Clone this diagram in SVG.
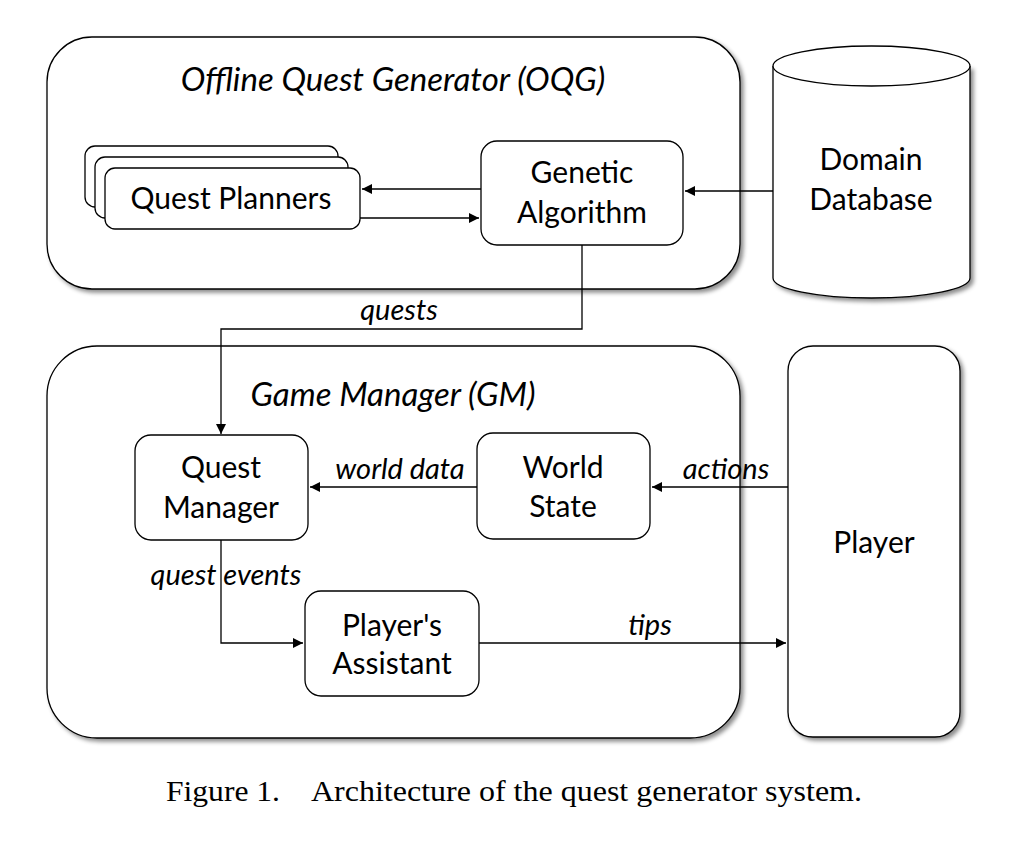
<svg xmlns="http://www.w3.org/2000/svg" width="1022" height="849" viewBox="0 0 1022 849">
<style>
.box{fill:#fff;stroke:#000;stroke-width:1.3}
.t{font-family:Lato,"Open Sans","Liberation Sans",sans-serif;font-size:30px;fill:#000;text-anchor:middle}
.i{font-family:Lato,"Open Sans","Liberation Sans",sans-serif;font-style:italic;font-size:29px;fill:#000;text-anchor:middle}
.h{font-family:Lato,"Open Sans","Liberation Sans",sans-serif;font-style:italic;font-size:33px;fill:#000;text-anchor:middle}
.c{fill:none;stroke:#000;stroke-width:1.3}
.cap{font-family:"Liberation Serif","Times New Roman",serif;font-size:30px;fill:#000}
</style>
<defs>
<filter id="sh" x="-5%" y="-5%" width="112%" height="115%">
<feDropShadow dx="3" dy="3" stdDeviation="2" flood-color="#000" flood-opacity="0.45"/>
</filter>
<marker id="ar" viewBox="0 0 10 10" refX="10" refY="5" markerWidth="10" markerHeight="10" markerUnits="userSpaceOnUse" orient="auto">
<path d="M0,0 L10,5 L0,10 z" fill="#000"/>
</marker>
</defs>
<rect width="1022" height="849" fill="#fff"/>

<g id="oqg">
<rect class="box" x="47" y="37" width="693" height="252" rx="45" filter="url(#sh)"/>
<text class="h" x="393" y="91">Offline Quest Generator (OQG)</text>
</g>

<g id="gm">
<rect class="box" x="47" y="346" width="693" height="392" rx="50" filter="url(#sh)"/>
<text class="h" x="393" y="406">Game Manager (GM)</text>
</g>

<g id="quest-planners">
<rect class="box" x="85" y="146" width="253" height="61" rx="10"/>
<rect class="box" x="95" y="157" width="253" height="61" rx="10"/>
<rect class="box" x="105" y="168" width="255" height="61" rx="10"/>
<text class="t" x="231" y="209">Quest Planners</text>
</g>

<g id="genetic-algorithm">
<rect class="box" x="481" y="141" width="202" height="104" rx="16"/>
<text class="t" x="582" y="183">Genetic</text>
<text class="t" x="582" y="223">Algorithm</text>
</g>

<g id="domain-database">
<path class="box" d="M773,66 L773,278 A98.5,20 0 0 0 970,278 L970,66" filter="url(#sh)"/>
<ellipse class="box" cx="871.5" cy="66" rx="98.5" ry="20"/>
<text class="t" x="871" y="170">Domain</text>
<text class="t" x="871" y="210">Database</text>
</g>

<g id="quest-manager">
<rect class="box" x="135" y="435" width="173" height="105" rx="16"/>
<text class="t" x="221" y="478">Quest</text>
<text class="t" x="221" y="518">Manager</text>
</g>

<g id="world-state">
<rect class="box" x="477" y="433" width="173" height="106" rx="16"/>
<text class="t" x="563" y="478">World</text>
<text class="t" x="563" y="517">State</text>
</g>

<g id="players-assistant">
<rect class="box" x="305" y="591" width="174" height="105" rx="16"/>
<text class="t" x="392" y="636">Player's</text>
<text class="t" x="392" y="674">Assistant</text>
</g>

<g id="player">
<rect class="box" x="788" y="346" width="172" height="391" rx="25" filter="url(#sh)"/>
<text class="t" x="874" y="553">Player</text>
</g>

<g id="connectors">
<path class="c" d="M481,189 L362,189" marker-end="url(#ar)"/>
<path class="c" d="M360,218 L479,218" marker-end="url(#ar)"/>
<path class="c" d="M773,191 L685,191" marker-end="url(#ar)"/>
<path class="c" d="M582,245 L582,329 L221,329 L221,434" marker-end="url(#ar)"/>
<text class="i" x="399" y="320">quests</text>
<path class="c" d="M477,487 L310,487" marker-end="url(#ar)"/>
<text class="i" x="400" y="479">world data</text>
<path class="c" d="M788,487 L652,487" marker-end="url(#ar)"/>
<text class="i" x="726" y="479">actions</text>
<path class="c" d="M221,540 L221,643 L303,643" marker-end="url(#ar)"/>
<text class="i" x="226" y="585">quest events</text>
<path class="c" d="M479,643 L786,643" marker-end="url(#ar)"/>
<text class="i" x="650" y="635">tips</text>
</g>

<text class="cap" x="166" y="801" textLength="114" lengthAdjust="spacingAndGlyphs">Figure 1.</text>
<text class="cap" x="311" y="801" textLength="551" lengthAdjust="spacingAndGlyphs">Architecture of the quest generator system.</text>
</svg>
